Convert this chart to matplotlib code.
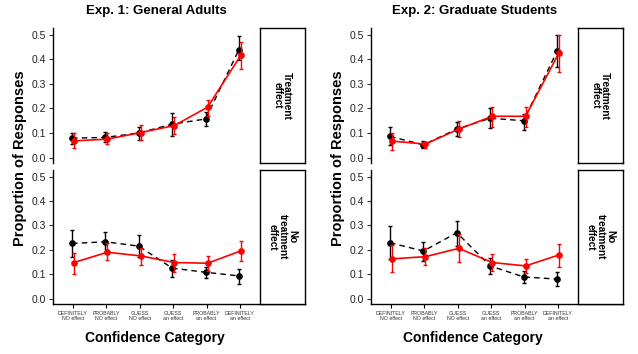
import matplotlib
matplotlib.use("Agg")
import matplotlib.pyplot as plt
import numpy as np

plt.rcParams['font.family'] = ['Liberation Sans', 'DejaVu Sans']

categories = ["DEFINITELY\nNO effect", "PROBABLY\nNO effect", "GUESS\nNO effect",
              "GUESS\nan effect", "PROBABLY\nan effect", "DEFINITELY\nan effect"]
titles = ["Exp. 1: General Adults", "Exp. 2: Graduate Students"]
strips = ["Treatment\neffect", "No\ntreatment\neffect"]

# Exp 1, Treatment effect
e1_te_black = [0.079, 0.082, 0.100, 0.136, 0.157, 0.439]
e1_te_black_lo = [0.057, 0.064, 0.072, 0.089, 0.128, 0.396]
e1_te_black_hi = [0.100, 0.105, 0.123, 0.181, 0.184, 0.495]
e1_te_red = [0.068, 0.075, 0.102, 0.130, 0.205, 0.417]
e1_te_red_lo = [0.037, 0.055, 0.071, 0.094, 0.169, 0.360]
e1_te_red_hi = [0.100, 0.098, 0.132, 0.164, 0.236, 0.470]
# Exp 1, No treatment effect
e1_nt_black = [0.226, 0.233, 0.215, 0.125, 0.108, 0.093]
e1_nt_black_lo = [0.171, 0.186, 0.169, 0.087, 0.084, 0.061]
e1_nt_black_hi = [0.282, 0.275, 0.259, 0.159, 0.131, 0.122]
e1_nt_red = [0.148, 0.190, 0.175, 0.148, 0.145, 0.196]
e1_nt_red_lo = [0.102, 0.157, 0.138, 0.111, 0.114, 0.154]
e1_nt_red_hi = [0.188, 0.229, 0.209, 0.184, 0.173, 0.236]
# Exp 2, Treatment effect
e2_te_black = [0.086, 0.052, 0.116, 0.160, 0.150, 0.432]
e2_te_black_lo = [0.050, 0.038, 0.089, 0.119, 0.113, 0.368]
e2_te_black_hi = [0.123, 0.068, 0.143, 0.200, 0.177, 0.498]
e2_te_red = [0.067, 0.055, 0.116, 0.168, 0.168, 0.426]
e2_te_red_lo = [0.031, 0.037, 0.082, 0.125, 0.125, 0.350]
e2_te_red_hi = [0.102, 0.065, 0.147, 0.205, 0.207, 0.497]
# Exp 2, No treatment effect
e2_nt_black = [0.229, 0.195, 0.270, 0.134, 0.089, 0.080]
e2_nt_black_lo = [0.161, 0.154, 0.215, 0.100, 0.064, 0.050]
e2_nt_black_hi = [0.297, 0.233, 0.318, 0.165, 0.115, 0.111]
e2_nt_red = [0.163, 0.172, 0.206, 0.148, 0.134, 0.179]
e2_nt_red_lo = [0.108, 0.136, 0.152, 0.114, 0.103, 0.131]
e2_nt_red_hi = [0.220, 0.209, 0.264, 0.182, 0.164, 0.224]

panels = [
    [(e1_te_black, e1_te_black_lo, e1_te_black_hi, e1_te_red, e1_te_red_lo, e1_te_red_hi),
     (e1_nt_black, e1_nt_black_lo, e1_nt_black_hi, e1_nt_red, e1_nt_red_lo, e1_nt_red_hi)],
    [(e2_te_black, e2_te_black_lo, e2_te_black_hi, e2_te_red, e2_te_red_lo, e2_te_red_hi),
     (e2_nt_black, e2_nt_black_lo, e2_nt_black_hi, e2_nt_red, e2_nt_red_lo, e2_nt_red_hi)],
]

W, H = 638, 354
fig = plt.figure(figsize=(W / 100, H / 100), dpi=100)

def fx(px):
    return px / W

def fy(py):
    return 1 - py / H

x = np.arange(1, 7)
dodge = 0.03
panel_left = [53, 371]
panel_w = 207
strip_w = 45
rows = [(28, 163), (170, 304)]

for c in range(2):
    L = panel_left[c]
    for r in range(2):
        top, bot = rows[r]
        ax = fig.add_axes([fx(L), fy(bot), fx(panel_w), (bot - top) / H])
        b, blo, bhi, rd, rlo, rhi = panels[c][r]
        b = np.array(b); rd = np.array(rd)
        ax.errorbar(x - dodge, b, yerr=[b - np.array(blo), np.array(bhi) - b],
                    color='black', lw=1.0, ls=(0, (4, 3)), marker='o', ms=3.8,
                    elinewidth=1.0, capsize=1.5, capthick=1.0, zorder=3)
        ax.errorbar(x + dodge, rd, yerr=[rd - np.array(rlo), np.array(rhi) - rd],
                    color='#ff0000', lw=1.2, ls='-', marker='o', ms=3.8,
                    elinewidth=1.0, capsize=1.5, capthick=1.0, zorder=4)
        ax.set_xlim(0.4, 6.6)
        ax.set_ylim(-0.022, 0.527)
        ax.set_yticks([0.0, 0.1, 0.2, 0.3, 0.4, 0.5])
        ax.set_yticklabels(["0.0", "0.1", "0.2", "0.3", "0.4", "0.5"])
        ax.tick_params(axis='y', labelsize=7.5, length=3, width=0.8, pad=2, colors='#333333', labelcolor='#222222')
        for s in ['top', 'right']:
            ax.spines[s].set_visible(False)
        ax.spines['left'].set_linewidth(1.0)
        ax.set_xticks(x)
        if r == 0:
            ax.spines['bottom'].set_visible(False)
            ax.tick_params(axis='x', bottom=False, labelbottom=False)
        else:
            ax.spines['bottom'].set_linewidth(1.0)
            ax.spines['bottom'].set_bounds(0.4, 6.6 + strip_w / panel_w * 6.2)
            ax.spines['bottom'].set_clip_on(False)
            ax.set_xticklabels(categories, fontsize=3.8, color='#333333', linespacing=1.1)
            ax.tick_params(axis='x', length=3, width=0.8, pad=2)
        # strip
        sax = fig.add_axes([fx(L + panel_w), fy(bot), fx(strip_w), (bot - top) / H])
        sax.set_xticks([]); sax.set_yticks([])
        for s in sax.spines.values():
            s.set_linewidth(1.0)
        sax.text(0.5, 0.5, strips[r], rotation=-90, ha='center', va='center',
                 fontsize=7.2, fontweight='bold', transform=sax.transAxes, linespacing=0.95)
    fig.text(fx(L + panel_w / 2), fy(11), titles[c], ha='center', va='center',
             fontsize=9.5, fontweight='bold')
    fig.text(fx(L - 33), fy(158), "Proportion of Responses", rotation=90, ha='center',
             va='center', fontsize=10.5, fontweight='bold')
    fig.text(fx(L + panel_w / 2 - 2), fy(338), "Confidence Category", ha='center',
             va='center', fontsize=10, fontweight='bold')

fig.savefig("out.png", dpi=100)
